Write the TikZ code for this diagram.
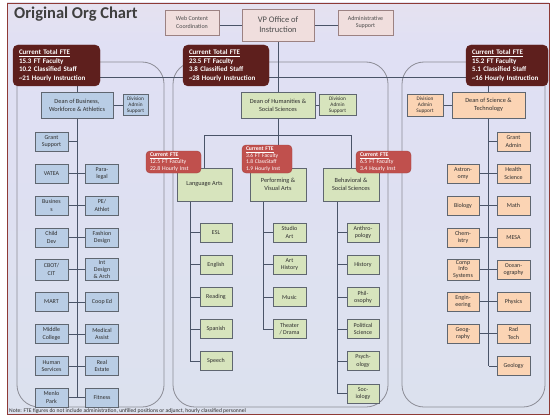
\documentclass[tikz,border=0pt]{standalone}
\usepackage{fontspec}
\setmainfont{Carlito}
\usetikzlibrary{calc}
\definecolor{maroonfte}{HTML}{5E1F1D}
\definecolor{redfte}{HTML}{C0504D}
\definecolor{bluebox}{HTML}{B9CDE5}
\definecolor{greenbox}{HTML}{D7E4BD}
\definecolor{peachbox}{HTML}{FBD4B4}
\definecolor{pinkbox}{HTML}{F0DEDD}
\definecolor{pinkline}{HTML}{9C8282}
\definecolor{boxline}{HTML}{5F6670}
\definecolor{conn}{HTML}{4A5468}
\definecolor{panelline}{HTML}{8C8C96}
\definecolor{txt}{HTML}{2E2E2E}
\definecolor{titlecol}{HTML}{3F3F3F}
\definecolor{frameline}{HTML}{8E3A36}
\definecolor{bgA}{HTML}{A2BC9E}
\definecolor{bgB}{HTML}{C0D3BF}
\definecolor{bgC}{HTML}{DCE1EE}
\definecolor{bgD}{HTML}{E0E0F4}
\definecolor{bgE}{HTML}{F3E6E4}
\definecolor{bgF}{HTML}{FAEBDB}
\pgfdeclareverticalshading{bgshade}{100bp}{color(0bp)=(bgA); color(10bp)=(bgB); color(25bp)=(bgC); color(70bp)=(bgD); color(88bp)=(bgE); color(100bp)=(bgF)}
\pgfdeclarelayer{back}
\pgfdeclarelayer{wires}
\pgfsetlayers{back,wires,main}
\tikzset{
  base/.style={draw=boxline, line width=0.7pt, align=center, inner sep=0pt, text=txt,
    font=\fontsize{6}{7.2}\selectfont},
  kid/.style={base, minimum width=33pt, minimum height=19pt},
  bk/.style={kid, fill=bluebox},
  gk/.style={kid, fill=greenbox},
  pk/.style={kid, fill=peachbox},
  topbox/.style={base, draw=pinkline, fill=pinkbox, text=black!70},
  fte/.style={fill=maroonfte, draw=maroonfte, rounded corners=5pt, text=white, align=left,
    inner ysep=0pt, inner xsep=6pt, minimum height=41pt,
    font=\bfseries\fontsize{7}{8.7}\selectfont},
  rfte/.style={fill=redfte, draw=redfte!85!black, rounded corners=4pt, text=white, align=left,
    inner ysep=0pt, inner xsep=4pt, font=\fontsize{5.8}{7}\selectfont},
  panel/.style={draw=panelline, line width=0.8pt, rounded corners=22pt},
  wire/.style={draw=conn, line width=0.8pt},
}
\begin{document}
\begin{tikzpicture}[x=1pt,y=-1pt]
\useasboundingbox (0,0) rectangle (553,417);
\begin{pgfonlayer}{back}
  \fill[white] (0,0) rectangle (553,417);
  \shade[shading=bgshade] (7,3) rectangle (549,414);
  \draw[frameline, line width=0.8pt] (7,3) rectangle (549,414);
  \draw[panel] (17,62) rectangle (164,407);
  \draw[panel] (173,62) rectangle (388,407);
  \draw[panel] (402,62) rectangle (545,407);
\end{pgfonlayer}

% title and note
\node[anchor=base west, inner sep=0pt, text=titlecol, font=\bfseries\fontsize{16.5}{18}\selectfont] (title) at (14,19) {Original Org Chart};
\node[anchor=base west, inner sep=0pt, text=txt, font=\fontsize{5.6}{6}\selectfont] (note) at (9,412) {Note: FTE figures do not include administration, unfilled positions or adjunct, hourly classified personnel};

% top
\node[topbox, minimum width=54pt, minimum height=25pt] (web) at (192,22.5) {Web Content\\Coordination};
\node[topbox, minimum width=72pt, minimum height=32pt, font=\fontsize{8.5}{10}\selectfont] (vp) at (278,25) {VP Office of\\Instruction};
\node[topbox, minimum width=55pt, minimum height=25pt] (adm) at (365.5,22.5) {Administrative\\Support};

% FTE totals
\node[fte, text width=75pt] (fteL) at (56.5,65.5) {\underline{Current Total\ FTE}\\15.3 FT Faculty\\10.2 Classified Staff\\\textasciitilde21 Hourly Instruction};
\node[fte, text width=74pt] (fteC) at (226,65.5) {\underline{Current Total\ FTE}\\23.5 FT Faculty\\3.8 Classified Staff\\\textasciitilde28 Hourly Instruction};
\node[fte, text width=70pt] (fteR) at (507,65.5) {\underline{Current Total\ FTE}\\15.2 FT Faculty\\5.1 Classified Staff\\\textasciitilde16 Hourly Instruction};

% left division
\node[base, fill=bluebox, minimum width=72pt, minimum height=26pt, font=\fontsize{6.3}{8}\selectfont] (busDean) at (77,105) {Dean of Business,\\Workforce \& Athletics};
\node[base, fill=bluebox, minimum width=25pt, minimum height=21pt, font=\fontsize{5.3}{6.3}\selectfont] (busDiv) at (135.5,105) {Division\\Admin\\Support};
\node[bk] (grant) at (51.5,141.5) {Grant\\Support};
\node[bk] (vatea) at (51.5,173.5) {VATEA};
\node[bk] (para) at (102,173.5) {Para-\\legal};
\node[bk] (busi) at (51.5,205.5) {Busines\\s};
\node[bk] (pe) at (102,205.5) {PE/\\Athlet};
\node[bk] (child) at (51.5,237.5) {Child\\Dev};
\node[bk] (fashion) at (102,237.5) {Fashion\\Design};
\node[bk, minimum height=21pt] (cbot) at (51.5,269.5) {CBOT/\\CIT};
\node[bk, minimum height=22pt, font=\fontsize{6}{6.6}\selectfont] (intd) at (102,269.5) {Int\\Design\\\& Arch};
\node[bk] (mart) at (51.5,302) {MART};
\node[bk] (coop) at (102,302) {Coop Ed};
\node[bk] (middle) at (51.5,334) {Middle\\College};
\node[bk] (medical) at (102,334) {Medical\\Assist};
\node[bk] (human) at (51.5,366) {Human\\Services};
\node[bk] (real) at (102,366) {Real\\Estate};
\node[bk] (menlo) at (51.5,397.5) {Menlo\\Park};
\node[bk] (fitness) at (102,397.5) {Fitness};

% center division
\node[base, fill=greenbox, minimum width=74pt, minimum height=26pt, font=\fontsize{6.3}{8}\selectfont] (humDean) at (278,105) {Dean of Humanities \&\\Social Sciences};
\node[base, fill=greenbox, minimum width=37pt, minimum height=21pt, font=\fontsize{5.3}{6.3}\selectfont] (humDiv) at (337.5,105) {Division\\Admin\\Support};
\node[base, fill=greenbox, minimum width=55pt, minimum height=33pt, font=\fontsize{6.3}{8}\selectfont] (la) at (204.5,184.5) {Language Arts};
\node[base, fill=greenbox, minimum width=56pt, minimum height=33pt, font=\fontsize{6.3}{8}\selectfont] (pva) at (278,184.5) {Performing \&\\Visual Arts};
\node[base, fill=greenbox, minimum width=56pt, minimum height=33pt, font=\fontsize{6.3}{8}\selectfont] (bss) at (351,184.5) {Behavioral \&\\Social Sciences};
\node[gk, minimum width=32pt] (esl) at (216,232.5) {ESL};
\node[gk, minimum width=32pt] (english) at (216,264.5) {English};
\node[gk, minimum width=32pt] (reading) at (216,297) {Reading};
\node[gk, minimum width=32pt] (spanish) at (216,329) {Spanish};
\node[gk, minimum width=32pt] (speech) at (216,361) {Speech};
\node[gk] (studio) at (289.5,232.5) {Studio\\Art};
\node[gk] (arthist) at (289.5,264.5) {Art\\History};
\node[gk] (music) at (289.5,297) {Music};
\node[gk] (theater) at (289.5,329) {Theater\\/ Drama};
\node[gk, minimum width=32pt] (anthro) at (363,232.5) {Anthro-\\pology};
\node[gk, minimum width=32pt] (history) at (363,264.5) {History};
\node[gk, minimum width=32pt] (philo) at (363,297) {Phil-\\osophy};
\node[gk, minimum width=32pt] (polisci) at (363,329) {Political\\Science};
\node[gk, minimum width=32pt] (psych) at (363,361) {Psych-\\ology};
\node[gk, minimum width=32pt] (socio) at (363,393.5) {Soc-\\iology};
\node[rfte, text width=47pt, minimum height=22pt] (laF) at (173.5,162) {\underline{\textbf{Current FTE}}\\12.5 FT Faculty\\22.8 Hourly Inst};
\node[rfte, text width=42pt, minimum height=28pt, font=\fontsize{5.6}{6.5}\selectfont] (pvaF) at (267,159) {\underline{\textbf{Current FTE}}\\3.6 FT Faculty\\1.8 ClassStaff\\1.9 Hourly Inst};
\node[rfte, text width=47pt, minimum height=22pt] (bssF) at (383.5,162) {\underline{\textbf{Current FTE}}\\6.5 FT Faculty\\3.4 Hourly Inst};

% right division
\node[base, fill=peachbox, minimum width=73pt, minimum height=26pt, font=\fontsize{6.3}{8}\selectfont] (sciDean) at (488.5,105) {Dean of Science \&\\Technology};
\node[base, fill=peachbox, minimum width=36pt, minimum height=22pt, font=\fontsize{5.3}{6.3}\selectfont] (sciDiv) at (425,105) {Division\\Admin\\Support};
\node[pk] (grantad) at (513.5,141.5) {Grant\\Admin};
\node[pk, minimum width=32pt] (astro) at (463,173.5) {Astron-\\omy};
\node[pk] (health) at (513.5,173.5) {Health\\Science};
\node[pk, minimum width=32pt] (bio) at (463,205.5) {Biology};
\node[pk] (math) at (513.5,205.5) {Math};
\node[pk, minimum width=32pt] (chem) at (463,237.5) {Chem-\\istry};
\node[pk] (mesa) at (513.5,237.5) {MESA};
\node[pk, minimum width=32pt, minimum height=21pt, font=\fontsize{6}{6.6}\selectfont] (cis) at (463,269.5) {Comp\\Info\\Systems};
\node[pk] (ocean) at (513.5,269.5) {Ocean-\\ography};
\node[pk, minimum width=32pt] (engin) at (463,301.5) {Engin-\\eering};
\node[pk] (phys) at (513.5,301.5) {Physics};
\node[pk, minimum width=32pt] (geog) at (463,333.5) {Geog-\\raphy};
\node[pk] (rad) at (513.5,333.5) {Rad\\Tech};
\node[pk] (geology) at (513.5,366) {Geology};

% connectors
\begin{pgfonlayer}{wires}
  \draw[wire] (vp.west) -- (vp.west -| web.east);
  \draw[wire] (vp.east) -- (vp.east -| adm.west);
  \draw[wire] (vp.south) -- (humDean.north);
  \draw[wire] ($(fteL.south east)+(0,-9)$) -- ($(fteR.south west)+(0,-9)$);
  % left
  \draw[wire] (busDean.north) -- (busDean.north |- fteL.south);
  \draw[wire] (busDean.east) -- (busDiv.west);
  \draw[wire] (busDean.south) -- (busDean.south |- menlo.east);
  \draw[wire] (grant.east) -- (grant.east -| busDean.south);
  \draw[wire] (vatea.east) -- (para.west);
  \draw[wire] (busi.east) -- (pe.west);
  \draw[wire] (child.east) -- (fashion.west);
  \draw[wire] (cbot.east) -- (intd.west);
  \draw[wire] (mart.east) -- (coop.west);
  \draw[wire] (middle.east) -- (medical.west);
  \draw[wire] (human.east) -- (real.west);
  \draw[wire] (menlo.east) -- (fitness.west);
  % center
  \draw[wire] (humDean.east) -- (humDiv.west);
  \draw[wire] (humDean.south) -- (pva.north);
  \draw[wire] (la.north) |- ($(humDean.south)+(0,17)$) -| (bss.north);
  \coordinate (laS) at ($(la.south west)+(14,0)$);
  \draw[wire] (laS) |- (speech.west);
  \foreach \k in {esl,english,reading,spanish} \draw[wire] (\k.west) -- (\k.west -| laS);
  \coordinate (pvaS) at ($(pva.south west)+(14,0)$);
  \draw[wire] (pvaS) |- (theater.west);
  \foreach \k in {studio,arthist,music} \draw[wire] (\k.west) -- (\k.west -| pvaS);
  \coordinate (bssS) at ($(bss.south west)+(15,0)$);
  \draw[wire] (bssS) |- (socio.west);
  \foreach \k in {anthro,history,philo,polisci,psych} \draw[wire] (\k.west) -- (\k.west -| bssS);
  % right
  \draw[wire] (sciDean.north) -- (sciDean.north |- fteR.south);
  \draw[wire] (sciDiv.east) -- (sciDean.west);
  \draw[wire] (sciDean.south) -- (sciDean.south |- geology.west);
  \draw[wire] (grantad.west) -- (grantad.west -| sciDean.south);
  \draw[wire] (astro.east) -- (health.west);
  \draw[wire] (bio.east) -- (math.west);
  \draw[wire] (chem.east) -- (mesa.west);
  \draw[wire] (cis.east) -- (ocean.west);
  \draw[wire] (engin.east) -- (phys.west);
  \draw[wire] (geog.east) -- (rad.west);
  \draw[wire] (geology.west) -- (geology.west -| sciDean.south);
\end{pgfonlayer}
\end{tikzpicture}
\end{document}
